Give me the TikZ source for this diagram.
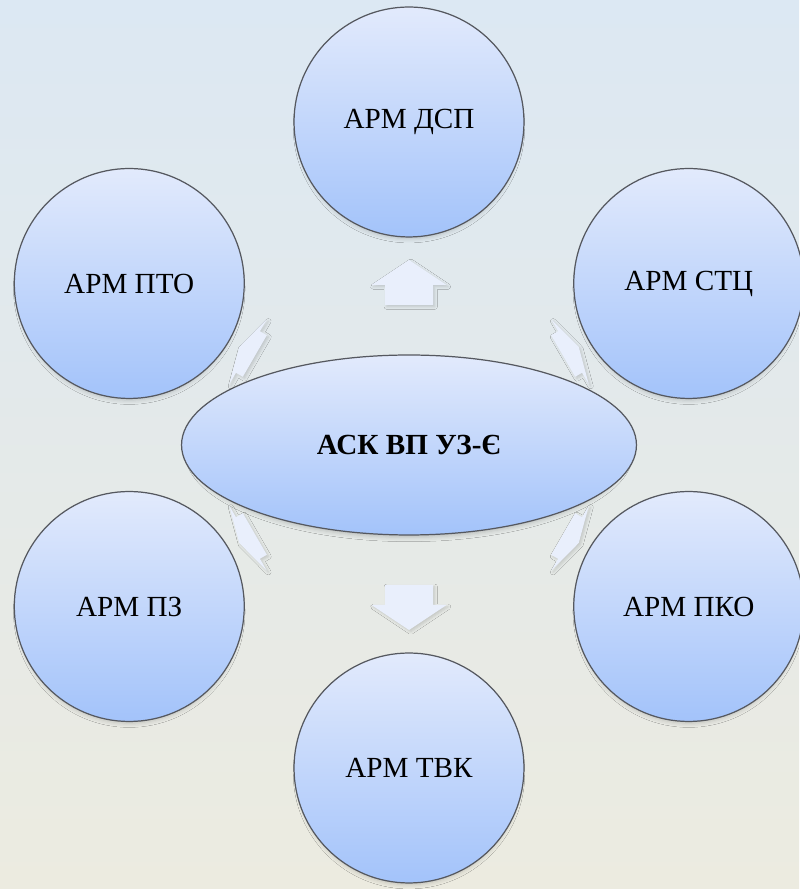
\documentclass[tikz,border=0pt]{standalone}
\usepackage{fontspec}
\setmainfont{Liberation Serif}
\usetikzlibrary{shapes.geometric,shadows.blur}
\definecolor{bgtop}{RGB}{220,232,243}
\definecolor{bgbottom}{RGB}{236,235,224}
\definecolor{armtop}{RGB}{226,234,252}
\definecolor{armbottom}{RGB}{163,195,250}
\definecolor{armline}{RGB}{85,88,95}
\definecolor{arrowfill}{RGB}{233,239,252}
\tikzset{
    soft-shadow/.style = {blur shadow={shadow scale=0.97, shadow xshift=0pt, shadow yshift=-3pt, shadow blur radius=2.5pt, shadow opacity=20}},
    arm-circle/.style = {circle, draw=armline, line width=0.7pt, top color=armtop, bottom color=armbottom, minimum size=4.6cm, inner sep=0pt, font=\fontsize{16.6}{19}\selectfont, soft-shadow},
    ask-ellipse/.style = {ellipse, draw=armline, line width=0.7pt, top color=armtop, bottom color=armbottom, minimum width=9.1cm, minimum height=3.6cm, inner sep=0pt, font=\bfseries\fontsize{16.6}{19}\selectfont, soft-shadow},
    block-arrow/.style = {fill=arrowfill, draw=none, blur shadow={shadow xshift=1pt, shadow yshift=-1pt, shadow blur radius=1.5pt, shadow opacity=15}},
    out-arrow/.pic = {\path[block-arrow] (-20,-24) -- (0,-24) -- (0,-37.5) -- (25,0) -- (0,37.5) -- (0,24) -- (-20,24) -- cycle;},
}

\begin{document}
\begin{tikzpicture}[x=0.02cm, y=0.02cm]
\useasboundingbox (0,0) rectangle (799,889);
\shade[top color=bgtop, bottom color=bgbottom] (0,0) rectangle (799,889);
% centre
\node[ask-ellipse] (ask) at (409,444) {АСК ВП УЗ-Є};
% workstations
\node[arm-circle] (dsp) at ([shift={(90:323)}]ask.center) {АРМ ДСП};
\node[arm-circle] (stc) at ([shift={(30:323)}]ask.center) {АРМ СТЦ};
\node[arm-circle] (pko) at ([shift={(-30:323)}]ask.center) {АРМ ПКО};
\node[arm-circle] (tvk) at ([shift={(-90:323)}]ask.center) {АРМ ТВК};
\node[arm-circle] (pz) at ([shift={(210:323)}]ask.center) {АРМ ПЗ};
\node[arm-circle] (pto) at ([shift={(150:323)}]ask.center) {АРМ ПТО};
% arrows out of the centre
\pic[rotate=90] at ([shift={(90:160)}]ask.center) {out-arrow};
\pic[rotate=-90] at ([shift={(-90:160)}]ask.center) {out-arrow};
\pic[rotate=30, xscale=0.4] at ([shift={(30:186)}]ask.center) {out-arrow};
\pic[rotate=-30, xscale=0.4] at ([shift={(-30:186)}]ask.center) {out-arrow};
\pic[rotate=150, xscale=0.4] at ([shift={(150:186)}]ask.center) {out-arrow};
\pic[rotate=210, xscale=0.4] at ([shift={(210:186)}]ask.center) {out-arrow};
\end{tikzpicture}
\end{document}
